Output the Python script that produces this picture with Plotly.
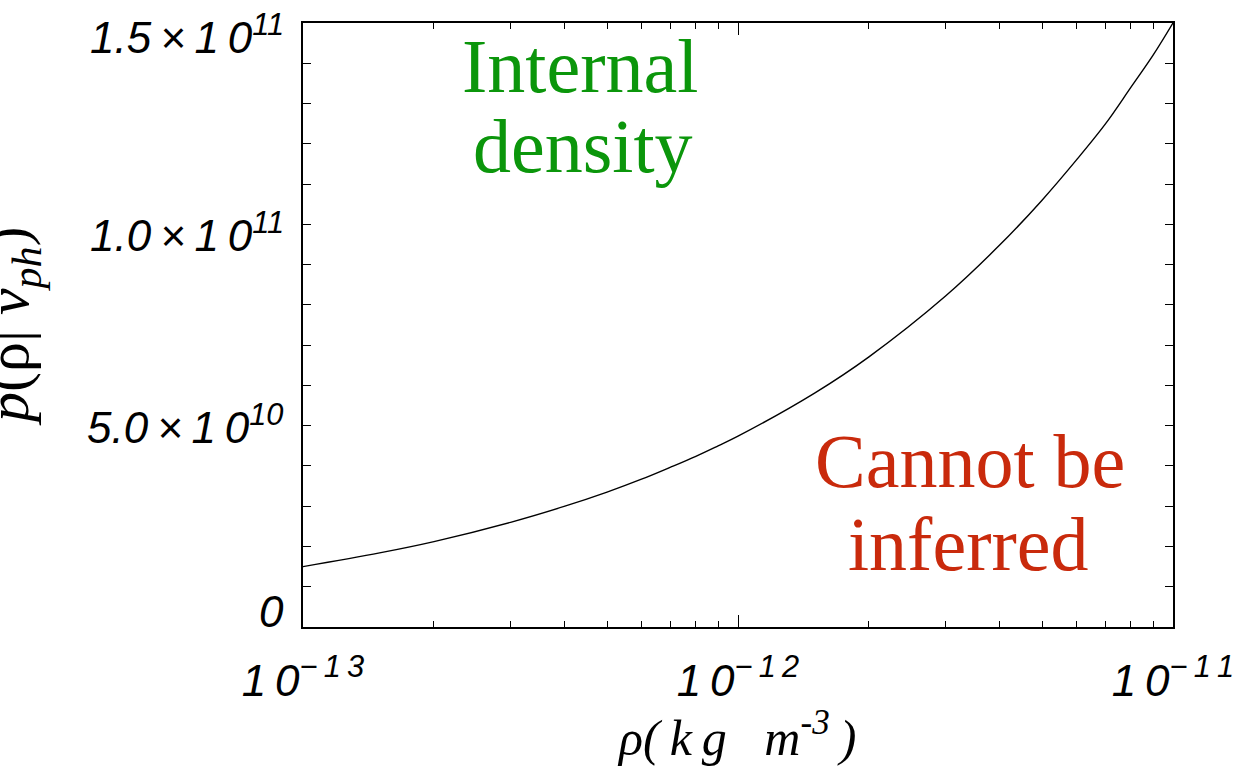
import plotly.graph_objects as go

# density grid (kg m^-3) and posterior values p(rho | v_ph)
rho = [1e-13, 1.5e-13, 2e-13, 3e-13, 4e-13, 5e-13, 6e-13, 7e-13, 8e-13, 9e-13,
       1e-12, 1.5e-12, 2e-12, 3e-12, 4e-12, 5e-12, 6e-12, 7e-12, 8e-12, 9e-12, 1e-11]
posterior = [1.50e10, 1.84e10, 2.12e10, 2.60e10, 3.00e10, 3.35e10, 3.67e10, 3.97e10, 4.24e10, 4.50e10,
             4.74e10, 5.81e10, 6.71e10, 8.22e10, 9.49e10, 10.6e10, 11.6e10, 12.5e10, 13.4e10, 14.2e10, 15.0e10]

S = "\u2009"  # thin space, widens the tick glyph spacing
x_ticks = [1e-13, 1e-12, 1e-11]
x_ticktext = [f"1{S}0<sup>\u2212{S}1{S}3</sup>", f"1{S}0<sup>\u2212{S}1{S}2</sup>", f"1{S}0<sup>\u2212{S}1{S}1</sup>"]
y_ticks = [0, 5e10, 1e11, 1.5e11]
y_ticktext = ["0",
              f"5.0{S}\u00d7{S}1{S}0<sup>10</sup>",
              f"1.0{S}\u00d7{S}1{S}0<sup>11</sup>",
              f"1.5{S}\u00d7{S}1{S}0<sup>11</sup>"]
# vertical nudges of the y labels (px, up positive), keeps the end labels inside the frame
y_label_shift = [16, 1, -8, -11]

W, H = 1239, 767
L, R, T, B = 303, 66, 23, 140
PW = W - L - R

fig = go.Figure()
fig.add_trace(go.Scatter(x=rho, y=posterior, mode="lines", line_shape="spline",
                         line=dict(color="black", width=1.4), showlegend=False))

tickfont = dict(family="Liberation Sans", size=44, color="black", style="italic")
minor_x = [m * 10.0 ** e for e in (-13, -12) for m in range(2, 10)]

fig.update_xaxes(type="log", range=[-13, -11], tickvals=x_ticks, ticktext=x_ticktext,
                 ticks="inside", ticklen=12, tickwidth=1.3, tickcolor="black",
                 minor=dict(tickvals=minor_x, ticks="inside", ticklen=6, tickwidth=1.3, tickcolor="black"),
                 showline=True, linecolor="black", linewidth=1.6, mirror="allticks",
                 showgrid=False, zeroline=False, tickfont=tickfont, ticklabelstandoff=14,
                 ticklabeloverflow="allow", automargin=False)
fig.update_yaxes(range=[0, 1.5e11], tickvals=y_ticks, showticklabels=False,
                 ticks="inside", ticklen=8, tickwidth=1.3, tickcolor="black",
                 minor=dict(dtick=1e10, ticks="inside", ticklen=8, tickwidth=1.3, tickcolor="black"),
                 showline=True, linecolor="black", linewidth=1.6, mirror="allticks",
                 showgrid=False, zeroline=False, automargin=False)

serif = "Liberation Serif"
green = "#0b960b"
red = "#c92a0c"

def px_x(p):
    return (p - L) / PW

def px_y(p):
    return (H - B - p) / (H - T - B)

annotations = []
# y tick labels placed on the y axis scale
for val, txt, dy in zip(y_ticks, y_ticktext, y_label_shift):
    annotations.append(dict(text=txt, x=px_x(286), y=val, yref="y", xanchor="right",
                            yanchor="middle", yshift=dy, font=tickfont))

annotations += [
    dict(text="Internal", x=px_x(580), y=px_y(110), xanchor="center", yanchor="bottom",
         font=dict(family=serif, size=76, color=green)),
    dict(text="density", x=px_x(583), y=px_y(190), xanchor="center", yanchor="bottom",
         font=dict(family=serif, size=76, color=green)),
    dict(text="Cannot be", x=px_x(970), y=px_y(505), xanchor="center", yanchor="bottom",
         font=dict(family=serif, size=76, color=red)),
    dict(text="inferred", x=px_x(968), y=px_y(588), xanchor="center", yanchor="bottom",
         font=dict(family=serif, size=76, color=red)),
    dict(text=f"\u03c1({S}<i>k{S}g\u00a0\u00a0\u00a0m</i><sup>-3</sup>{S})", x=px_x(736), y=px_y(734),
         xanchor="center", yanchor="middle",
         font=dict(family=serif, size=50, color="black", style="italic")),
    dict(text="<i>p</i>(\u03c1|\u00a0<i>v</i><sub><i>ph</i></sub>)", x=px_x(12), y=px_y(326),
         xanchor="center", yanchor="middle", textangle=-90,
         font=dict(family=serif, size=60, color="black")),
]
for a in annotations:
    a.setdefault("yref", "paper")
    a.update(xref="paper", showarrow=False)

fig.update_layout(width=W, height=H, margin=dict(l=L, r=R, t=T, b=B, autoexpand=False),
                  paper_bgcolor="white", plot_bgcolor="white",
                  annotations=annotations)

fig.write_html("out.html")
